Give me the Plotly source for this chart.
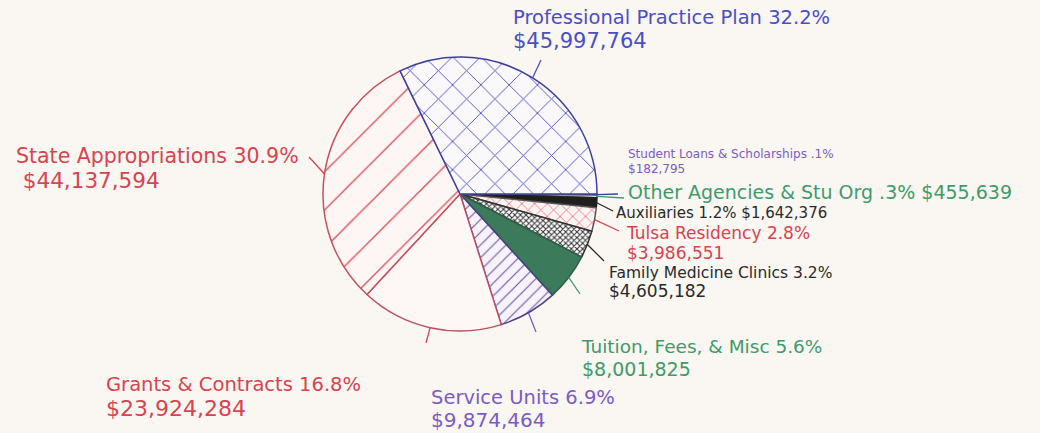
import math
import plotly.graph_objects as go

# ---------------- data ----------------
categories = [
    "Professional Practice Plan",
    "State Appropriations",
    "Grants & Contracts",
    "Service Units",
    "Tuition, Fees, & Misc",
    "Family Medicine Clinics",
    "Tulsa Residency",
    "Auxiliaries",
    "Other Agencies & Stu Org",
    "Student Loans & Scholarships",
]
amounts = [45997764, 44137594, 23924284, 9874464, 8001825,
           4605182, 3986551, 1642376, 455639, 182795]
pct_labels = ["32.2%", "30.9%", "16.8%", "6.9%", "5.6%",
              "3.2%", "2.8%", "1.2%", ".3%", ".1%"]

# ---------------- styling / layout ----------------
W, H = 1040, 433
CX, CY, R = 460, 194, 137
BG = "#faf6f2"
FONT = "DejaVu Sans"

BLUE = "#4a4fc2"
RED = "#d8434f"
GREEN = "#3f9a6a"
PURPLE = "#7a5cc4"
BLACK = "#2a2a2a"

slice_bg = ["#fbf8fb", "#fdf6f4", "#fdf8f6", "#f8f3fb", "#3b7a5b",
            "#ffffff", "#fdf4f2", "#1f1f1f", "#f4f2f4", "#3a3fa8"]
slice_shape = ["x", "/", "", "/", "", "x", "x", "", "", ""]
slice_fg = ["#4a4fbf", "#d9505a", "#d9505a", "#6a5aa8", "#3b7a5b",
            "#333333", "#d9505a", "#1f1f1f", "#888888", "#3a3fa8"]
slice_size = [20, 27, 10, 9, 10, 4, 9, 10, 10, 10]
slice_solid = [0.09, 0.05, 0.1, 0.13, 0.1, 0.45, 0.14, 0.1, 0.1, 0.1]
slice_line = ["#3d3f9e", "#c8505a", "#b85060", "#4a3f80", "#2f5e48",
              "#333333", "#555555", "#222222", "#555555", "#3a3fa8"]

# label placement (pixels): left x, centre y of line 1 / line 2,
# font sizes, colour, single-line flag, leader end point
label_style = {
    "Professional Practice Plan":   dict(x=512, y1=17,  y2=41,  s1=19.5, s2=21, c=BLUE,   one=False, end=(541, 60)),
    "State Appropriations":         dict(x=15,  y1=156, y2=181, s1=20.5, s2=21.5, c=RED,  one=False, end=(309, 157), indent=True),
    "Grants & Contracts":           dict(x=105, y1=384, y2=409, s1=19.5, s2=22, c=RED,    one=False, end=(426, 343)),
    "Service Units":                dict(x=430, y1=397, y2=420, s1=19.5, s2=20, c=PURPLE, one=False, end=(536, 332)),
    "Tuition, Fees, & Misc":        dict(x=580, y1=346, y2=369, s1=18.5, s2=19, c=GREEN,  one=False, end=(580, 294)),
    "Family Medicine Clinics":      dict(x=608, y1=273, y2=292, s1=15.5, s2=17, c=BLACK,  one=False, end=(604, 261)),
    "Tulsa Residency":              dict(x=625, y1=233, y2=253, s1=17, s2=17, c=RED,      one=False, end=(619, 231)),
    "Auxiliaries":                  dict(x=615, y1=213, y2=None, s1=15, s2=15, c=BLACK,   one=True,  end=(613, 211)),
    "Other Agencies & Stu Org":     dict(x=627, y1=192, y2=None, s1=19, s2=19, c=GREEN,   one=True,  end=(624, 198)),
    "Student Loans & Scholarships": dict(x=627, y1=154, y2=169, s1=12, s2=12, c=PURPLE,   one=False, end=(618, 194)),
}

dom_x = [(CX - R) / W, (CX + R) / W]
dom_y = [1 - (CY + R) / H, 1 - (CY - R) / H]

# slices are listed clockwise from 3 o'clock (i.e. reversed), so that the
# first category runs counter-clockwise upward from 3 o'clock as in the original
rev = slice(None, None, -1)
fig = go.Figure(go.Pie(
    labels=categories[rev],
    values=amounts[rev],
    sort=False,
    direction="clockwise",
    rotation=90,
    textinfo="none",
    hoverinfo="label+value+percent",
    showlegend=False,
    domain=dict(x=dom_x, y=dom_y),
    marker=dict(
        colors=slice_bg[rev],
        line=dict(color=slice_line[rev], width=1.5),
        pattern=dict(shape=slice_shape[rev], fgcolor=slice_fg[rev], bgcolor=slice_bg[rev],
                     size=slice_size[rev], solidity=slice_solid[rev], fillmode="replace"),
    ),
))


def px2paper(px, py):
    return px / W, 1 - py / H


annotations = []
shapes = []
total = sum(amounts)
cum = 0.0
for cat, amt, pct in zip(categories, amounts, pct_labels):
    st = label_style[cat]
    mid = (cum + amt / 2) / total * 2 * math.pi  # ccw from 3 o'clock
    cum += amt
    ax_px = CX + R * math.cos(mid)
    ay_px = CY - R * math.sin(mid)
    x0, y0 = px2paper(ax_px, ay_px)
    x1, y1 = px2paper(*st["end"])
    lc = "#3a3fa8" if cat == "Student Loans & Scholarships" else st["c"]
    shapes.append(dict(type="line", xref="paper", yref="paper",
                       x0=x0, y0=y0, x1=x1, y1=y1,
                       line=dict(color=lc, width=1.3)))
    money = f"${amt:,}"
    if st["one"]:
        ax, ay = px2paper(st["x"], st["y1"])
        annotations.append(dict(text=f"{cat} {pct} {money}", x=ax, y=ay, xref="paper", yref="paper",
                                xanchor="left", yanchor="middle", showarrow=False, borderpad=0,
                                font=dict(family=FONT, size=st["s1"], color=st["c"])))
    else:
        spacing = st["y2"] - st["y1"]
        base = spacing / 1.3
        pre = "\u00a0" if st.get("indent") else ""
        txt = (f"<span style='font-size:{st['s1']}px'>{cat} {pct}</span><br>"
               f"<span style='font-size:{st['s2']}px'>{pre}{money}</span>")
        ax, ay = px2paper(st["x"], (st["y1"] + st["y2"]) / 2)
        annotations.append(dict(text=txt, x=ax, y=ay, xref="paper", yref="paper",
                                xanchor="left", yanchor="middle", align="left",
                                showarrow=False, borderpad=0,
                                font=dict(family=FONT, size=base, color=st["c"])))

fig.update_layout(
    width=W, height=H,
    margin=dict(l=0, r=0, t=0, b=0),
    paper_bgcolor=BG,
    plot_bgcolor=BG,
    annotations=annotations,
    shapes=shapes,
)

fig.write_html("out.html")
